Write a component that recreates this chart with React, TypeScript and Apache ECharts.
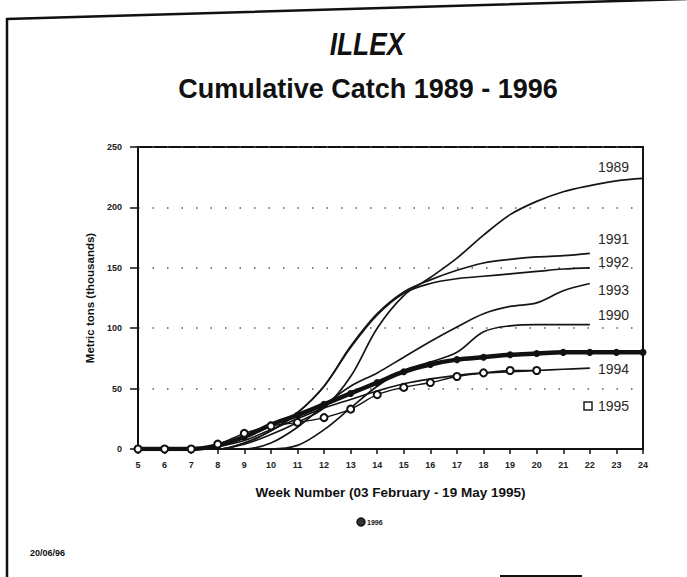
import React, { useEffect, useRef } from "react";
import * as echarts from "echarts";

const weeks = [5, 6, 7, 8, 9, 10, 11, 12, 13, 14, 15, 16, 17, 18, 19, 20, 21, 22, 23, 24];
const yTicks = [0, 50, 100, 150, 200, 250];

const s1989 = [0, 0, 0, 0, 4, 12, 22, 34, 60, 100, 127, 142, 158, 177, 194, 205, 213, 218, 222, 224];
const s1990 = [0, 0, 0, 0, 0, 0, 3, 16, 34, 52, 65, 72, 80, 97, 102, 103, 103, 103];
const s1991 = [0, 0, 0, 0, 5, 15, 30, 52, 85, 112, 130, 140, 148, 154, 157, 159, 160, 162];
const s1992 = [0, 0, 0, 0, 5, 15, 30, 52, 84, 111, 129, 137, 141, 143, 145, 147, 149, 150];
const s1993 = [0, 0, 0, 0, 0, 5, 18, 36, 52, 63, 76, 89, 101, 112, 118, 121, 131, 137];
const s1994 = [0, 0, 0, 2, 7, 16, 25, 34, 41, 48, 54, 58, 61, 63, 64, 65, 66, 67];
const s1995 = [0, 0, 0, 4, 13, 19, 22, 26, 33, 45, 51, 55, 60, 63, 65, 65];
const s1996 = [0, 0, 0, 3, 10, 20, 28, 37, 46, 55, 64, 70, 74, 76, 78, 79, 80, 80, 80, 80];

const FONT = '"Liberation Sans", Arial, sans-serif';

const pairs = (vals: number[]) => vals.map((v, i) => [weeks[i], v]);

export default function App() {
  const ref = useRef<HTMLDivElement>(null);
  useEffect(() => {
    const chart = echarts.init(ref.current!, null, { renderer: "svg" });
    const thin = (name: string, vals: number[], z = 2) => ({
      name,
      type: "line",
      data: pairs(vals),
      smooth: 0.35,
      symbol: "none",
      silent: true,
      z,
      lineStyle: { color: "#151515", width: 1.7 },
    });
    chart.setOption({
      animation: false,
      backgroundColor: "#ffffff",
      grid: {
        left: 138,
        right: 44,
        top: 147,
        bottom: 128,
        show: true,
        borderColor: "#111",
        borderWidth: 2,
      },
      xAxis: {
        type: "value",
        min: 5,
        max: 24,
        interval: 1,
        name: "Week Number (03 February - 19 May 1995)",
        nameLocation: "middle",
        nameGap: 36,
        nameTextStyle: { fontSize: 13.5, fontWeight: "bold", color: "#111", fontFamily: FONT },
        axisLine: { show: true, lineStyle: { color: "#111", width: 2 } },
        axisTick: { show: true, length: 5, lineStyle: { color: "#111", width: 1.5 } },
        axisLabel: { fontSize: 9, fontWeight: "bold", color: "#222", margin: 11, fontFamily: FONT },
        splitLine: { show: false },
      },
      yAxis: {
        type: "value",
        min: yTicks[0],
        max: yTicks[yTicks.length - 1],
        interval: 50,
        name: "Metric tons (thousands)",
        nameLocation: "middle",
        nameGap: 40,
        nameRotate: 90,
        nameTextStyle: { fontSize: 11.5, fontWeight: "bold", color: "#111", fontFamily: FONT },
        axisLine: { show: true, lineStyle: { color: "#111", width: 1.5 } },
        axisTick: { show: true, length: 8, lineStyle: { color: "#111", width: 1.5 } },
        axisLabel: { fontSize: 9, fontWeight: "bold", color: "#222", margin: 16, fontFamily: FONT },
        splitLine: { show: true, lineStyle: { color: "#555", width: 1.5, type: [1.5, 13] } },
      },
      series: [
        thin("1989", s1989),
        thin("1990", s1990),
        thin("1991", s1991),
        thin("1992", s1992),
        thin("1993", s1993),
        thin("1994", s1994),
        {
          name: "1996",
          type: "line",
          data: pairs(s1996),
          smooth: 0.35,
          symbol: "circle",
          symbolSize: 7,
          silent: true,
          z: 3,
          itemStyle: { color: "#111" },
          lineStyle: { color: "#111", width: 4.5 },
        },
        {
          name: "1995",
          type: "line",
          data: pairs(s1995),
          smooth: 0.35,
          symbol: "emptyCircle",
          symbolSize: 7,
          silent: true,
          z: 4,
          itemStyle: { color: "#111", borderWidth: 1.6 },
          lineStyle: { color: "#111", width: 1.4 },
        },
      ],
    });

    const labelFont = '14px "Liberation Sans", Arial, sans-serif';
    const endY = (vals: number[], idx?: number) => {
      const i = idx === undefined ? vals.length - 1 : idx;
      const p = chart.convertToPixel({ gridIndex: 0 }, [weeks[i], vals[i]]) as number[];
      return p[1];
    };
    const lab = (text: string, y: number) => ({
      type: "text",
      x: 598,
      y,
      silent: true,
      style: {
        text,
        font: labelFont,
        fill: "#2a2a2a",
        verticalAlign: "middle",
        textVerticalAlign: "middle",
      },
    });

    chart.setOption({
      graphic: {
        elements: [
          {
            type: "polyline",
            silent: true,
            shape: { points: [[7, 577], [7, 19], [687, -1]] },
            style: { stroke: "#111", lineWidth: 2.5, fill: "none" },
          },
          {
            type: "line",
            silent: true,
            shape: { x1: 500, y1: 576, x2: 582, y2: 576 },
            style: { stroke: "#111", lineWidth: 2 },
          },
          {
            type: "text",
            x: 367,
            y: 44,
            scaleX: 0.85,
            silent: true,
            style: {
              text: "ILLEX",
              font: 'italic bold 31px "Liberation Sans", Arial, sans-serif',
              fill: "#111",
              align: "center",
              textAlign: "center",
              verticalAlign: "middle",
              textVerticalAlign: "middle",
            },
          },
          {
            type: "text",
            x: 368,
            y: 89,
            silent: true,
            style: {
              text: "Cumulative Catch 1989 - 1996",
              font: 'bold 27px "Liberation Sans", Arial, sans-serif',
              fill: "#111",
              align: "center",
              textAlign: "center",
              verticalAlign: "middle",
              textVerticalAlign: "middle",
            },
          },
          lab("1989", endY(s1989, 18) - 14),
          lab("1991", endY(s1991) - 14),
          lab("1992", endY(s1992) - 6),
          lab("1993", endY(s1993) + 6),
          lab("1990", endY(s1990) - 10),
          lab("1994", endY(s1994) + 1),
          lab("1995", endY(s1994) + 38),
          {
            type: "rect",
            silent: true,
            shape: { x: 584, y: endY(s1994) + 34, width: 8, height: 8 },
            style: { stroke: "#222", lineWidth: 1.5, fill: "#fff" },
          },
          {
            type: "circle",
            silent: true,
            shape: { cx: 361, cy: 522, r: 4 },
            style: { stroke: "#111", lineWidth: 1.5, fill: "#333" },
          },
          {
            type: "text",
            x: 367,
            y: 522,
            silent: true,
            style: {
              text: "1996",
              font: 'bold 7px "Liberation Sans", Arial, sans-serif',
              fill: "#111",
              verticalAlign: "middle",
              textVerticalAlign: "middle",
            },
          },
          {
            type: "text",
            x: 30,
            y: 553,
            silent: true,
            style: {
              text: "20/06/96",
              font: 'bold 9px "Liberation Sans", Arial, sans-serif',
              fill: "#111",
              verticalAlign: "middle",
              textVerticalAlign: "middle",
            },
          },
        ],
      },
    });
    return () => chart.dispose();
  }, []);
  return (
    <div
      ref={ref}
      style={{ position: "fixed", left: 0, top: 0, width: 687, height: 577 }}
    />
  );
}
